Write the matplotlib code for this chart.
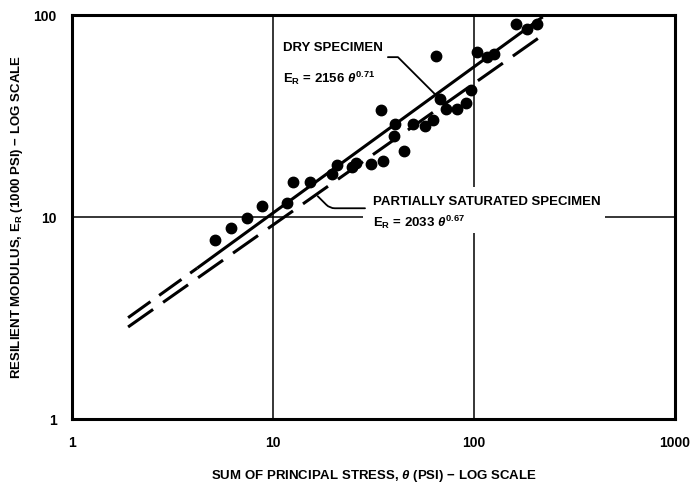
import matplotlib
matplotlib.use('Agg')
import matplotlib.pyplot as plt
from matplotlib.patches import Rectangle

plt.rcParams['font.family'] = ['Liberation Sans', 'DejaVu Sans']
plt.rcParams['font.weight'] = 'bold'
plt.rcParams['axes.labelweight'] = 'bold'
plt.rcParams['mathtext.fontset'] = 'custom'
plt.rcParams['mathtext.rm'] = 'Liberation Sans:bold'
plt.rcParams['mathtext.it'] = 'Liberation Sans:italic:bold'
plt.rcParams['mathtext.bf'] = 'Liberation Sans:bold'

# test points (sum of principal stress in psi, resilient modulus in 1000 psi)
theta = [5.15, 6.18, 7.42, 8.82, 11.7, 12.6, 15.3, 19.7, 20.8, 24.7, 25.9,
         30.7, 35.3, 44.9, 40.0, 40.5, 49.7, 57.0, 62.5, 34.5, 67.7, 72.6,
         82.3, 91.2, 96.6, 64.7, 103.5, 116, 126, 162, 184, 206]
modulus = [7.75, 8.79, 9.85, 11.3, 11.8, 14.9, 14.9, 16.3, 18.1, 17.7, 18.5,
           18.3, 18.9, 21.2, 25.2, 28.9, 28.9, 28.2, 30.2, 33.9, 38.4, 34.3,
           34.3, 36.7, 42.6, 62.9, 65.8, 62.1, 64.3, 90.6, 85.6, 90.6]

# fitted lines, endpoints
dry_ext_x = [1.9, 4.2]
dry_ext_y = [3.18, 5.6]
dry_x = [4.2, 220]
dry_y = [5.6, 98]
sat_x = [1.9, 225]
sat_y = [2.86, 80.9]

xticks = [1, 10, 100, 1000]
yticks = [1, 10, 100]

fs = 9.5

fig = plt.figure(figsize=(7, 4.88), dpi=100)
ax = fig.add_axes([0.103, 0.141, 0.861, 0.828])
ax.set_xscale('log')
ax.set_yscale('log')
ax.set_xlim(1, 1000)
ax.set_ylim(1, 100)

ax.set_axisbelow(True)
ax.grid(True, which='major', color='black', lw=1.1)
ax.minorticks_off()
ax.set_xticks(xticks)
ax.set_xticklabels([str(t) for t in xticks])
ax.set_yticks(yticks)
ax.set_yticklabels([str(t) for t in yticks])
ax.tick_params(length=0, labelsize=10)
ax.tick_params(axis='x', pad=12)
ax.tick_params(axis='y', pad=11)
for s in ax.spines.values():
    s.set_linewidth(2.2)

# white paste-up block behind the saturated specimen label
ax.add_patch(Rectangle((0.483, 0.460), 0.401, 0.114, transform=ax.transAxes,
                       facecolor='white', edgecolor='none', zorder=1))

ax.plot(dry_ext_x, dry_ext_y, color='black', lw=2.2, ls=(0, (9, 3.5)), zorder=2)
ax.plot(dry_x, dry_y, color='black', lw=2.2, solid_capstyle='butt', zorder=2)
ax.plot(sat_x, sat_y, color='black', lw=2.2, ls=(0, (10, 4)), zorder=2)
ax.plot(theta, modulus, 'o', color='black', ms=7.5, zorder=3)

ax.text(0.350, 0.918, 'DRY SPECIMEN', transform=ax.transAxes, fontsize=fs,
        va='center', ha='left')
ax.text(0.350, 0.832, r'E$_\mathregular{R}$ = 2156 $\theta^{\mathregular{0.71}}$',
        transform=ax.transAxes, fontsize=fs, va='baseline', ha='left')
ax.text(0.499, 0.530, 'PARTIALLY SATURATED SPECIMEN', transform=ax.transAxes,
        fontsize=fs, va='baseline', ha='left', zorder=4)
ax.text(0.499, 0.475, r'E$_\mathregular{R}$ = 2033 $\theta^{\mathregular{0.67}}$',
        transform=ax.transAxes, fontsize=fs, va='baseline', ha='left', zorder=4)

ax.annotate('', xy=(65, 40), xycoords='data', xytext=(0.524, 0.896),
            textcoords='axes fraction',
            arrowprops=dict(arrowstyle='-', lw=1.3, shrinkA=0, shrinkB=0,
                            connectionstyle='angle,angleA=0,angleB=135,rad=0'))
ax.annotate('', xy=(16.7, 12.7), xycoords='data', xytext=(0.486, 0.522),
            textcoords='axes fraction',
            arrowprops=dict(arrowstyle='-', lw=1.3, shrinkA=0, shrinkB=0,
                            connectionstyle='angle,angleA=0,angleB=135,rad=5'))

ax.set_xlabel(r'SUM OF PRINCIPAL STRESS, $\theta$ (PSI) $-$ LOG SCALE',
              fontsize=fs, va='center')
ax.xaxis.set_label_coords(0.5, -0.141)
ax.set_ylabel(r'RESILIENT MODULUS, E$_\mathregular{R}$ (1000 PSI) $-$ LOG SCALE',
              fontsize=fs, va='center')
ax.yaxis.set_label_coords(-0.092, 0.5)

fig.savefig('out.png', dpi=100)
